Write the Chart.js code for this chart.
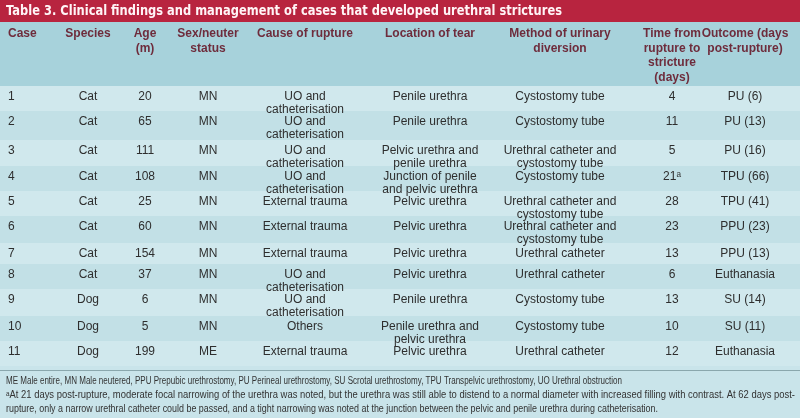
<!DOCTYPE html>
<html>
<head>
<meta charset="utf-8">
<script src="https://cdn.jsdelivr.net/npm/chart.js@4"></script>
<style>
  html, body { margin: 0; padding: 0; background: #c9e4ea; }
  #wrap { width: 800px; height: 418px; }
</style>
</head>
<body>
<div id="wrap"><canvas id="tableChart"></canvas></div>
<script>
// Table content
const title = "Table 3. Clinical findings and management of cases that developed urethral strictures";
const headers = ["Case", "Species", "Age\n(m)", "Sex/neuter\nstatus", "Cause of rupture", "Location of tear", "Method of urinary\ndiversion", "Time from\nrupture to\nstricture\n(days)", "Outcome (days\npost-rupture)"];
const cases = ["1", "2", "3", "4", "5", "6", "7", "8", "9", "10", "11"];
const species = ["Cat", "Cat", "Cat", "Cat", "Cat", "Cat", "Cat", "Cat", "Dog", "Dog", "Dog"];
const ages = ["20", "65", "111", "108", "25", "60", "154", "37", "6", "5", "199"];
const sexStatus = ["MN", "MN", "MN", "MN", "MN", "MN", "MN", "MN", "MN", "MN", "ME"];
const causes = ["UO and\ncatheterisation", "UO and\ncatheterisation", "UO and\ncatheterisation", "UO and\ncatheterisation", "External trauma", "External trauma", "External trauma", "UO and\ncatheterisation", "UO and\ncatheterisation", "Others", "External trauma"];
const locations = ["Penile urethra", "Penile urethra", "Pelvic urethra and\npenile urethra", "Junction of penile\nand pelvic urethra", "Pelvic urethra", "Pelvic urethra", "Pelvic urethra", "Pelvic urethra", "Penile urethra", "Penile urethra and\npelvic urethra", "Pelvic urethra"];
const methods = ["Cystostomy tube", "Cystostomy tube", "Urethral catheter and\ncystostomy tube", "Cystostomy tube", "Urethral catheter and\ncystostomy tube", "Urethral catheter and\ncystostomy tube", "Urethral catheter", "Urethral catheter", "Cystostomy tube", "Cystostomy tube", "Urethral catheter"];
const times = ["4", "11", "5", "21ᵃ", "28", "23", "13", "6", "13", "10", "12"];
const outcomes = ["PU (6)", "PU (13)", "PU (16)", "TPU (66)", "TPU (41)", "PPU (23)", "PPU (13)", "Euthanasia", "SU (14)", "SU (11)", "Euthanasia"];
const footnotes = [
  "ME Male entire, MN Male neutered, PPU Prepubic urethrostomy, PU Perineal urethrostomy, SU Scrotal urethrostomy, TPU Transpelvic urethrostomy, UO Urethral obstruction",
  "ᵃAt 21 days post-rupture, moderate focal narrowing of the urethra was noted, but the urethra was still able to distend to a normal diameter with increased filling with contrast. At 62 days post-",
  "rupture, only a narrow urethral catheter could be passed, and a tight narrowing was noted at the junction between the pelvic and penile urethra during catheterisation."
];

// Layout (pixel units of the 800x418 page, mapped through the scales)
const colX = [8, 88, 145, 208, 305, 430, 560, 672, 745];
const rowTops = [86, 111, 140, 166, 191, 216, 243, 264, 289, 316, 341, 366];
const footWidths = [616, 789, 652];

// draw text squeezed horizontally to a target width
function fitText(ctx, text, x, y, width) {
  const w = ctx.measureText(text).width;
  ctx.save();
  ctx.translate(x, y);
  ctx.scale(width / w, 1);
  ctx.fillText(text, 0, 0);
  ctx.restore();
}

const tablePlugin = {
  id: "tablePlugin",
  afterDraw(chart) {
    const ctx = chart.ctx;
    const x = chart.scales.x;
    const y = chart.scales.y;
    const px = (v) => x.getPixelForValue(v);
    const py = (v) => y.getPixelForValue(v);
    const fullW = px(800) - px(0);
    ctx.save();
    ctx.textBaseline = "middle";

    // backgrounds first
    ctx.fillStyle = "#b8243f";
    ctx.fillRect(px(0), py(0), fullW, py(22) - py(0));
    ctx.fillStyle = "#a7d2db";
    ctx.fillRect(px(0), py(22), fullW, py(rowTops[0]) - py(22));
    for (let r = 0; r < cases.length; r++) {
      ctx.fillStyle = r % 2 === 0 ? "#d0e8ed" : "#c2e0e6";
      ctx.fillRect(px(0), py(rowTops[r]), fullW, py(rowTops[r + 1]) - py(rowTops[r]));
    }
    ctx.fillStyle = "#c9e4ea";
    ctx.fillRect(px(0), py(rowTops[11]), fullW, py(418) - py(rowTops[11]));

    // title
    ctx.fillStyle = "#fff4f6";
    ctx.font = "900 14px 'DejaVu Sans'";
    ctx.textAlign = "left";
    fitText(ctx, title, px(6), py(11.5), 556);

    // header
    ctx.fillStyle = "#6e2c3c";
    ctx.font = "bold 12px 'Liberation Sans'";
    headers.forEach((h, c) => {
      ctx.textAlign = c === 0 ? "left" : "center";
      h.split("\n").forEach((line, k) => ctx.fillText(line, px(colX[c]), py(34 + k * 14.5)));
    });

    // data rows
    const cols = [cases, species, ages, sexStatus, causes, locations, methods, times, outcomes];
    ctx.font = "12px 'Liberation Sans'";
    ctx.fillStyle = "#2e2e2e";
    for (let r = 0; r < cases.length; r++) {
      const top = rowTops[r];
      cols.forEach((col, c) => {
        ctx.textAlign = c === 0 ? "left" : "center";
        col[r].split("\n").forEach((line, k) => ctx.fillText(line, px(colX[c]), py(top + 11 + k * 12.5)));
      });
    }

    // bottom rule + footnotes
    ctx.strokeStyle = "#8aa7ad";
    ctx.lineWidth = 1;
    ctx.beginPath();
    ctx.moveTo(px(0), py(370.5));
    ctx.lineTo(px(800), py(370.5));
    ctx.stroke();
    ctx.fillStyle = "#333333";
    ctx.font = "10px 'Liberation Sans'";
    ctx.textAlign = "left";
    footnotes.forEach((f, k) => fitText(ctx, f, px(6), py(381 + k * 14), footWidths[k]));
    ctx.restore();
  }
};

new Chart(document.getElementById("tableChart"), {
  type: "scatter",
  data: { datasets: [{ data: [] }] },
  options: {
    responsive: true,
    maintainAspectRatio: false,
    animation: false,
    layout: { padding: 0 },
    plugins: { legend: { display: false }, tooltip: { enabled: false } },
    scales: {
      x: { type: "linear", min: 0, max: 800, display: false },
      y: { type: "linear", min: 0, max: 418, reverse: true, display: false }
    }
  },
  plugins: [tablePlugin]
});
</script>
</body>
</html>
